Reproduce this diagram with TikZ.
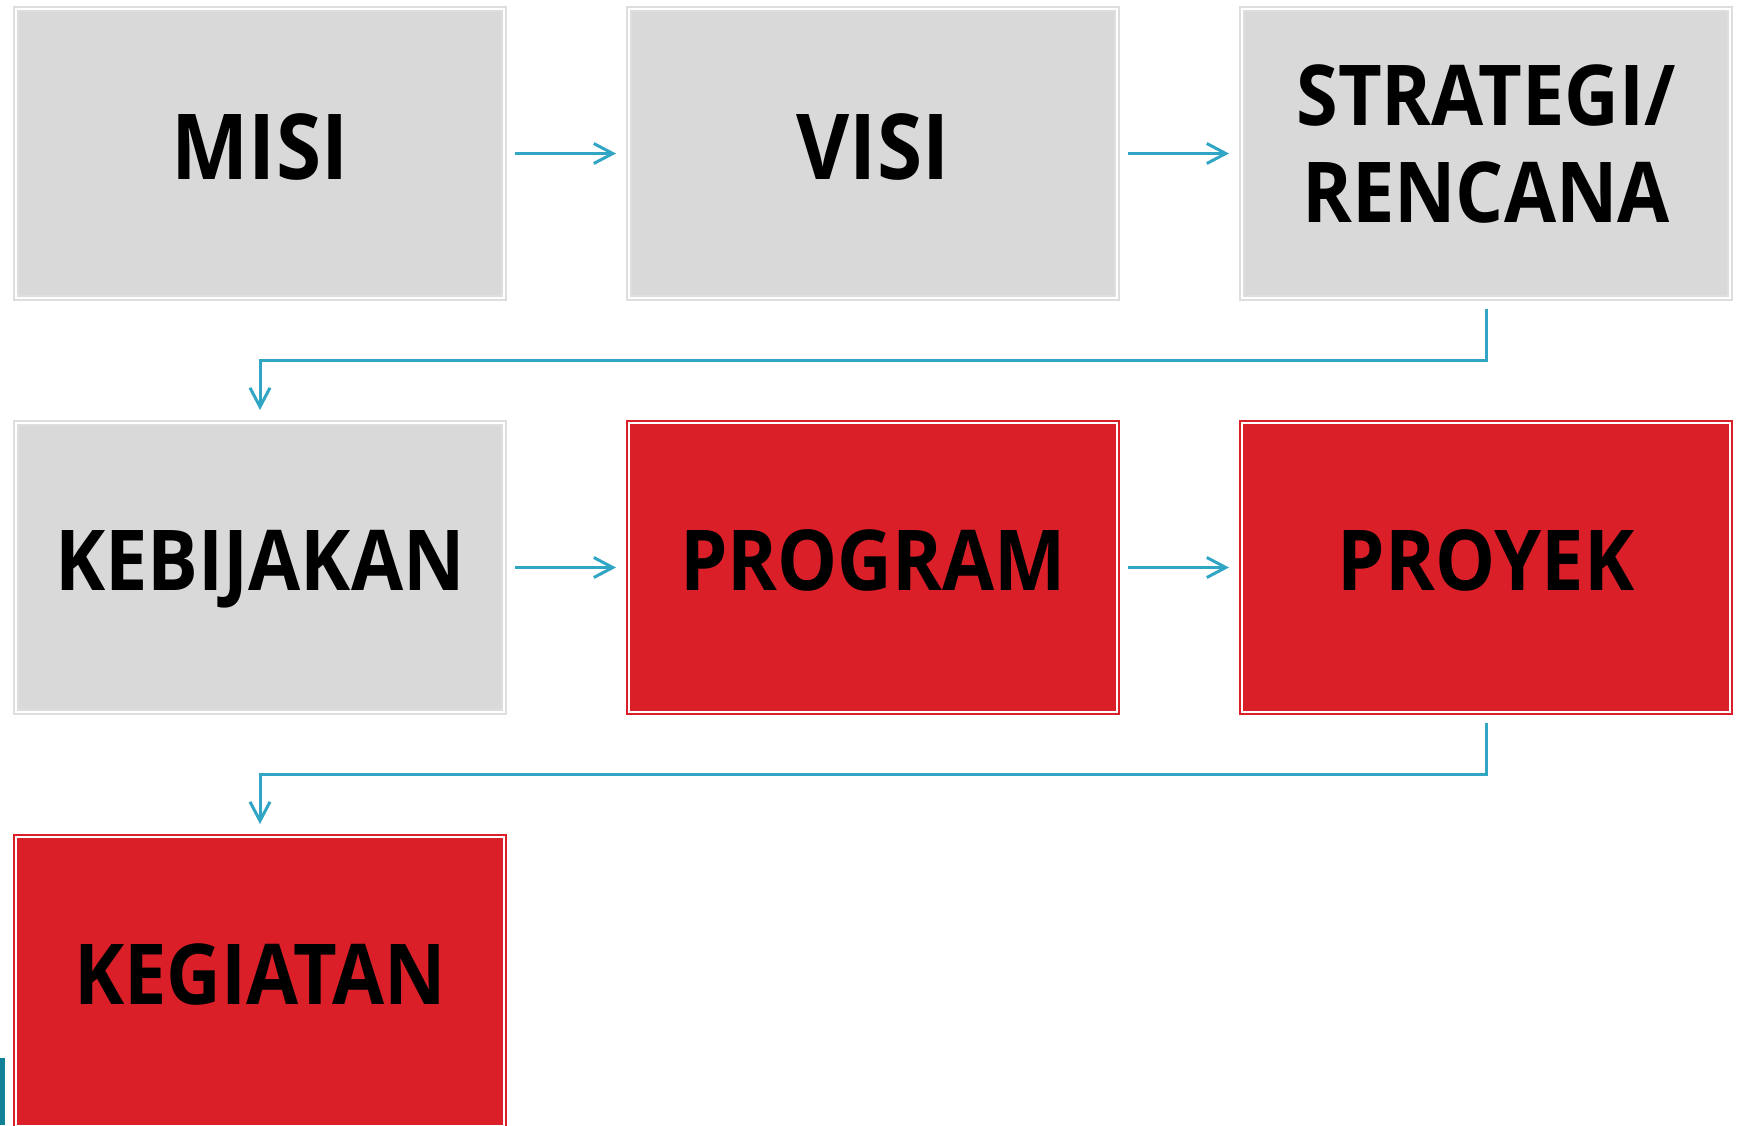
\documentclass[tikz,border=0pt]{standalone}
\usepackage{fontspec}
\setmainfont{Open Sans}[FakeStretch=0.9]
\usetikzlibrary{positioning,arrows.meta}

\definecolor{boxgray}{RGB}{217,217,217}
\definecolor{framegray}{RGB}{222,222,222}
\definecolor{boxred}{RGB}{218,31,40}
\definecolor{arrowblue}{RGB}{49,165,196}
\definecolor{barteal}{RGB}{16,129,150}

\tikzset{
  box/.style={rectangle, minimum width=488pt, minimum height=289pt,
    inner sep=0pt, outer sep=0pt, line width=2pt, double=white,
    double distance=2pt, align=center,
    font=\fontsize{84}{97}\selectfont\bfseries,
    text height=60pt, text depth=14pt},
  graybox/.style={box, draw=framegray, fill=boxgray},
  redbox/.style={box, draw=boxred, fill=boxred},
  bigtext/.style={font=\fontsize{91}{100}\selectfont\bfseries, text height=65pt},
  flow/.style={draw=arrowblue, line width=3pt,
    -{Straight Barb[length=19pt,width=20pt]}, shorten <=11pt, shorten >=13pt}
}

\begin{document}
\begin{tikzpicture}[x=1pt, y=1pt, node distance=125pt]

\useasboundingbox (0,0) rectangle (1737,-1125);

% first row
\node[graybox, bigtext] (misi) at (260,-153.5) {MISI};
\node[graybox, bigtext, right=of misi] (visi) {VISI};
\node[graybox, right=of visi, text height=157pt, text depth=20pt] (strategi) {STRATEGI/\\RENCANA};

% second row
\node[graybox, below=of misi] (kebijakan) {KEBIJAKAN};
\node[redbox, right=of kebijakan] (program) {PROGRAM};
\node[redbox, right=of program] (proyek) {PROYEK};

% third row
\node[redbox, below=of kebijakan] (kegiatan) {KEGIATAN};

\draw[flow] (misi) -- (visi);
\draw[flow] (visi) -- (strategi);
\draw[flow] (strategi.south) -- ++(0,-62.5) -| (kebijakan.north);
\draw[flow] (kebijakan) -- (program);
\draw[flow] (program) -- (proyek);
\draw[flow] (proyek.south) -- ++(0,-62.5) -| (kegiatan.north);

\fill[barteal] (0,-1058) rectangle (5,-1125);

\end{tikzpicture}
\end{document}
